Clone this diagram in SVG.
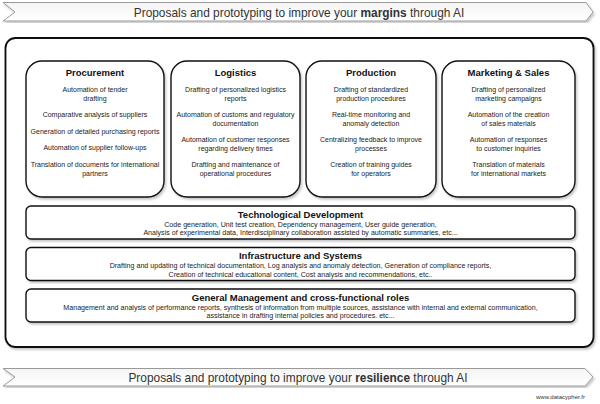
<svg xmlns="http://www.w3.org/2000/svg" width="600" height="404" viewBox="0 0 600 404">
<defs>
<linearGradient id="bg" x1="0" y1="0" x2="0" y2="1">
<stop offset="0" stop-color="#f4f4f4"/>
<stop offset="1" stop-color="#ffffff"/>
</linearGradient>
<filter id="sh" x="-5%" y="-5%" width="110%" height="115%">
<feDropShadow dx="1.5" dy="2" stdDeviation="1" flood-color="#000" flood-opacity="0.22"/>
</filter>
</defs>
<style>
.banner{fill:url(#bg);stroke:#9a9a9a;stroke-width:1}
.bt{font-family:"Liberation Sans",Arial,sans-serif;font-size:11.9px;fill:#333;text-anchor:middle}
.card{fill:#fff;stroke:#111;stroke-width:1.4}
.outer{fill:#fff;stroke:#111;stroke-width:1.8}
.h{font-family:"Liberation Sans",Arial,sans-serif;font-size:9.5px;font-weight:bold;fill:#111;text-anchor:middle}
.t{font-family:"Liberation Sans",Arial,sans-serif;font-size:7px;fill:#222;text-anchor:middle}
.r{font-family:"Liberation Sans",Arial,sans-serif;font-size:7.1px;fill:#222;text-anchor:middle}
.w{font-family:"Liberation Sans",Arial,sans-serif;font-size:6px;fill:#333;text-anchor:end}
</style>
<rect width="600" height="404" fill="#fff"/>

<g id="banner-top">
<path class="banner" d="M3,2.5 H586 L593,12 L586,21 H3 L15,12 Z" filter="url(#sh)"/>
<text class="bt" x="299" y="16.5">Proposals and prototyping to improve your <tspan font-weight="bold">margins</tspan> through AI</text>
</g>

<g id="outer">
<rect class="outer" x="5.5" y="38" width="588" height="309" rx="10" filter="url(#sh)"/>
</g>

<g id="procurement">
<rect class="card" x="26" y="61" width="138" height="136" rx="16" filter="url(#sh)"/>
<text class="h" x="95" y="76">Procurement</text>
<text class="t" x="95" y="92">Automation of tender</text>
<text class="t" x="95" y="100.5">drafting</text>
<text class="t" x="95" y="117">Comparative analysis of suppliers</text>
<text class="t" x="95" y="133.5">Generation of detailed purchasing reports</text>
<text class="t" x="95" y="150">Automation of supplier follow-ups</text>
<text class="t" x="95" y="167">Translation of documents for international</text>
<text class="t" x="95" y="175.5">partners</text>
</g>

<g id="logistics">
<rect class="card" x="171" y="61" width="129" height="136" rx="16" filter="url(#sh)"/>
<text class="h" x="235.5" y="76">Logistics</text>
<text class="t" x="235.5" y="92">Drafting of personalized logistics</text>
<text class="t" x="235.5" y="100.5">reports</text>
<text class="t" x="235.5" y="117">Automation of customs and regulatory</text>
<text class="t" x="235.5" y="125.5">documentation</text>
<text class="t" x="235.5" y="142">Automation of customer responses</text>
<text class="t" x="235.5" y="150.5">regarding delivery times</text>
<text class="t" x="235.5" y="167">Drafting and maintenance of</text>
<text class="t" x="235.5" y="175.5">operational procedures</text>
</g>

<g id="production">
<rect class="card" x="306" y="61" width="130" height="136" rx="16" filter="url(#sh)"/>
<text class="h" x="371" y="76">Production</text>
<text class="t" x="371" y="92">Drafting of standardized</text>
<text class="t" x="371" y="100.5">production procedures</text>
<text class="t" x="371" y="117">Real-time monitoring and</text>
<text class="t" x="371" y="125.5">anomaly detection</text>
<text class="t" x="371" y="142">Centralizing feedback to improve</text>
<text class="t" x="371" y="150.5">processes</text>
<text class="t" x="371" y="167">Creation of training guides</text>
<text class="t" x="371" y="175.5">for operators</text>
</g>

<g id="marketing">
<rect class="card" x="442" y="61" width="133" height="136" rx="16" filter="url(#sh)"/>
<text class="h" x="508.5" y="76">Marketing &amp; Sales</text>
<text class="t" x="508.5" y="92">Drafting of personalized</text>
<text class="t" x="508.5" y="100.5">marketing campaigns</text>
<text class="t" x="508.5" y="117">Automation of the creation</text>
<text class="t" x="508.5" y="125.5">of sales materials</text>
<text class="t" x="508.5" y="142">Automation of responses</text>
<text class="t" x="508.5" y="150.5">to customer inquiries</text>
<text class="t" x="508.5" y="167">Translation of materials</text>
<text class="t" x="508.5" y="175.5">for international markets</text>
</g>

<g id="tech-dev">
<rect class="card" x="26" y="206" width="549" height="33" rx="5" filter="url(#sh)"/>
<text class="h" x="300.5" y="217.5">Technological Development</text>
<text class="r" x="300.5" y="226.5">Code generation, Unit test creation, Dependency management, User guide generation,</text>
<text class="r" x="300.5" y="235">Analysis of experimental data, Interdisciplinary collaboration assisted by automatic summaries, etc...</text>
</g>

<g id="infrastructure">
<rect class="card" x="26" y="247.5" width="549" height="33" rx="5" filter="url(#sh)"/>
<text class="h" x="300.5" y="259">Infrastructure and Systems</text>
<text class="r" x="300.5" y="268">Drafting and updating of technical documentation, Log analysis and anomaly detection, Generation of compliance reports,</text>
<text class="r" x="300.5" y="276.5">Creation of technical educational content, Cost analysis and recommendations, etc..</text>
</g>

<g id="general-management">
<rect class="card" x="26" y="289" width="549" height="33" rx="5" filter="url(#sh)"/>
<text class="h" x="300.5" y="300.5">General Management and cross-functional roles</text>
<text class="r" x="300.5" y="309.5">Management and analysis of performance reports, synthesis of information from multiple sources, assistance with internal and external communication,</text>
<text class="r" x="300.5" y="318">assistance in drafting internal policies and procedures. etc...</text>
</g>

<g id="banner-bottom">
<path class="banner" d="M3,368.5 H585 L593,377 L585,386 H3 L15,377 Z" filter="url(#sh)"/>
<text class="bt" x="298" y="382">Proposals and prototyping to improve your <tspan font-weight="bold">resilience</tspan> through AI</text>
</g>

<text class="w" x="585" y="399">www.datacypher.fr</text>
</svg>
